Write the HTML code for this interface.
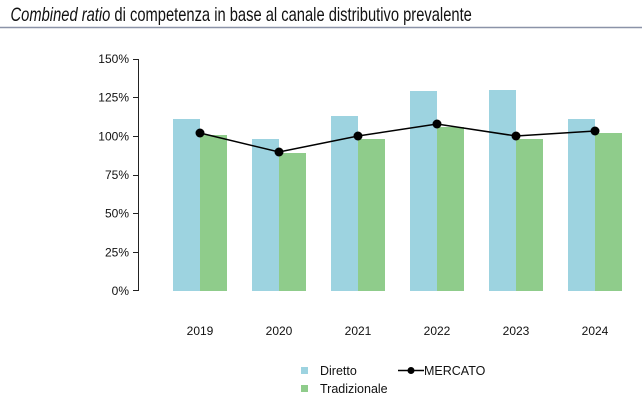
<!DOCTYPE html>
<html><head><style>
body{margin:0;background:#fff;width:642px;height:406px;overflow:hidden}
svg{display:block}
text{font-family:"Liberation Sans",sans-serif}
</style></head><body>
<svg width="642" height="406" xmlns="http://www.w3.org/2000/svg">
<text x="14" y="21" font-size="19.5" fill="#111" transform="scale(0.755,1)" style="font-family:'Liberation Sans Narrow','Liberation Sans',sans-serif"><tspan font-style="italic">Combined ratio</tspan> di competenza in base al canale distributivo prevalente</text>
<line x1="0" y1="27.5" x2="642" y2="27.5" stroke="#8b93a8" stroke-width="1.5"/>
<g font-size="12" fill="#111" text-anchor="end">
<text x="129" y="63">150%</text>
<text x="129" y="101.7">125%</text>
<text x="129" y="140.3">100%</text>
<text x="129" y="179">75%</text>
<text x="129" y="217.7">50%</text>
<text x="129" y="256.3">25%</text>
<text x="129" y="295">0%</text>
</g>
<g stroke="#222" stroke-width="1">
<line x1="138.5" y1="59" x2="138.5" y2="291"/>
<line x1="133" y1="59.5" x2="138.5" y2="59.5"/>
<line x1="133" y1="97.5" x2="138.5" y2="97.5"/>
<line x1="133" y1="136.5" x2="138.5" y2="136.5"/>
<line x1="133" y1="175.5" x2="138.5" y2="175.5"/>
<line x1="133" y1="213.5" x2="138.5" y2="213.5"/>
<line x1="133" y1="252.5" x2="138.5" y2="252.5"/>
<line x1="133" y1="290.5" x2="138.5" y2="290.5"/>
</g>
<g fill="#9dd3e0">
<rect x="173" y="119" width="27" height="172"/>
<rect x="252" y="139" width="27" height="152"/>
<rect x="331" y="116" width="27" height="175"/>
<rect x="410" y="91" width="27" height="200"/>
<rect x="489" y="90" width="27" height="201"/>
<rect x="568" y="119" width="27" height="172"/>
</g>
<g fill="#8fcc8b">
<rect x="200" y="135" width="27" height="156"/>
<rect x="279" y="153" width="27" height="138"/>
<rect x="358" y="139" width="27" height="152"/>
<rect x="437" y="127" width="27" height="164"/>
<rect x="516" y="139" width="27" height="152"/>
<rect x="595" y="133" width="27" height="158"/>
</g>
<polyline points="200,133 279,152 358,136 437,124 516,136 595,131" fill="none" stroke="#000" stroke-width="1.5"/>
<g fill="#000">
<circle cx="200" cy="133" r="4.5"/><circle cx="279" cy="152" r="4.5"/><circle cx="358" cy="136" r="4.5"/>
<circle cx="437" cy="124" r="4.5"/><circle cx="516" cy="136" r="4.5"/><circle cx="595" cy="131" r="4.5"/>
</g>
<g font-size="12" fill="#111" text-anchor="middle">
<text x="200" y="335">2019</text><text x="279" y="335">2020</text><text x="358" y="335">2021</text>
<text x="437" y="335">2022</text><text x="516" y="335">2023</text><text x="595" y="335">2024</text>
</g>
<rect x="301" y="367" width="7" height="7" fill="#9dd3e0"/>
<rect x="301" y="385" width="7" height="7" fill="#8fcc8b"/>
<g font-size="12.5" fill="#111">
<text x="320" y="375">Diretto</text>
<text x="320" y="393">Tradizionale</text>
<text x="424" y="375">MERCATO</text>
</g>
<line x1="398" y1="370.5" x2="424" y2="370.5" stroke="#000" stroke-width="1.5"/>
<circle cx="411" cy="370.5" r="3.5" fill="#000"/>
</svg>
</body></html>
